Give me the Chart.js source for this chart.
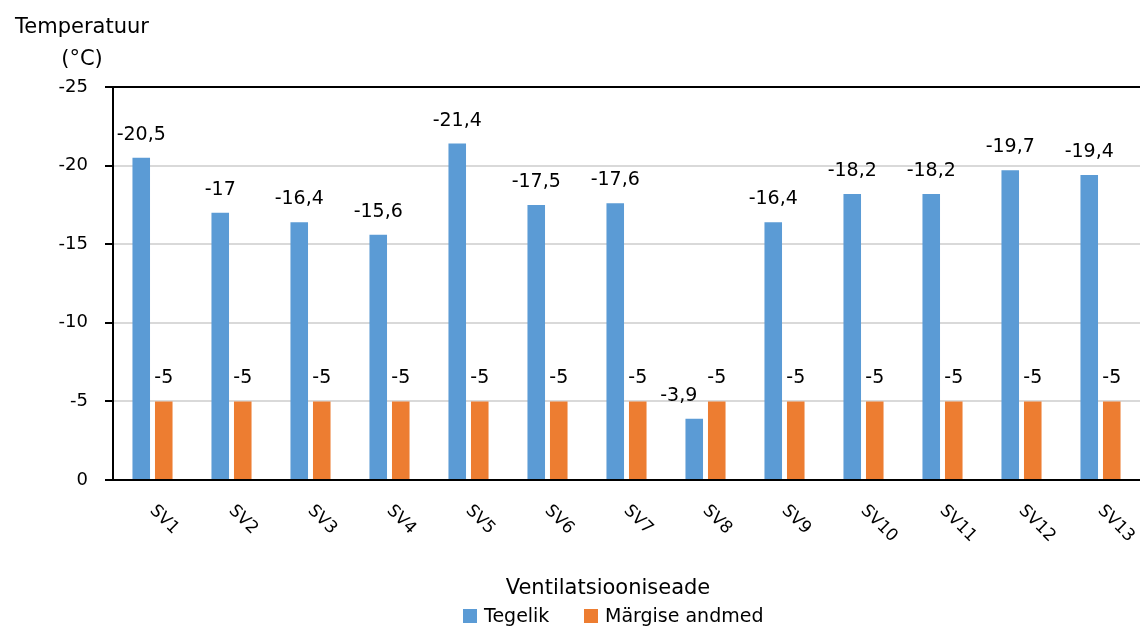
<!DOCTYPE html>
<html>
<head>
<meta charset="utf-8">
<title>Ventilatsiooniseadmete temperatuur</title>
<script src="https://cdn.jsdelivr.net/npm/chart.js@4/dist/chart.umd.min.js"></script>
<style>
  html, body { margin: 0; padding: 0; background: #ffffff; }
  #wrap { width: 1140px; height: 626px; }
</style>
</head>
<body>
<div id="wrap"><canvas id="chart" width="1140" height="626"></canvas></div>
<script>
// Ventilatsiooniseadmed
const categories = ['SV1', 'SV2', 'SV3', 'SV4', 'SV5', 'SV6', 'SV7', 'SV8', 'SV9', 'SV10', 'SV11', 'SV12', 'SV13'];
// Tegelik temperatuur (°C)
const tegelik = [-20.5, -17, -16.4, -15.6, -21.4, -17.5, -17.6, -3.9, -16.4, -18.2, -18.2, -19.7, -19.4];
// Märgise andmed (°C)
const margiseAndmed = [-5, -5, -5, -5, -5, -5, -5, -5, -5, -5, -5, -5, -5];
// Väärtustelje jaotised
const yTicks = [-25, -20, -15, -10, -5, 0];

const seriesNames = ['Tegelik', 'Märgise andmed'];
const seriesColors = ['#5B9BD5', '#ED7D31'];
const yTitle = ['Temperatuur', '(°C)'];
const xTitle = 'Ventilatsiooniseade';

const FONT = '"DejaVu Sans", sans-serif';
const INK = '#000000';

function fmt(v) {
  return String(v).replace('.', ',');
}

// Labels, rotated category names, titles and legend
const decorations = {
  id: 'decorations',
  afterDatasetsDraw(chart) {
    const ctx = chart.ctx;
    const labelSize = 19;
    ctx.save();
    ctx.fillStyle = INK;
    ctx.font = labelSize + 'px ' + FONT;
    ctx.textBaseline = 'alphabetic';
    ctx.textAlign = 'left';

    const m0 = chart.getDatasetMeta(0);
    const m1 = chart.getDatasetMeta(1);
    categories.forEach((c, i) => {
      const items = [
        { bar: m0.data[i], v: chart.data.datasets[0].data[i] },
        { bar: m1.data[i], v: chart.data.datasets[1].data[i] }
      ].map(o => {
        const t = fmt(o.v);
        const w = ctx.measureText(t).width;
        return { t, w, cx: o.bar.x, y: o.bar.y - 18 };
      });
      // keep the first label clear of its neighbour when they sit at similar heights
      const a = items[0], b = items[1];
      if (Math.abs(a.y - b.y) < labelSize && a.cx + a.w / 2 > b.cx - b.w / 2 - 10) {
        a.cx = b.cx - b.w / 2 - 10 - a.w / 2;
      }
      items.forEach(o => ctx.fillText(o.t, o.cx - o.w / 2, o.y));
    });

    // category names, turned 45°
    const xs = chart.scales.x;
    ctx.font = '17px ' + FONT;
    ctx.textBaseline = 'middle';
    categories.forEach((c, i) => {
      const px = xs.getPixelForTick(i);
      ctx.save();
      ctx.translate(px, 508);
      ctx.rotate(Math.PI / 4);
      ctx.fillText(c, 0, 0);
      ctx.restore();
    });

    // value axis title
    ctx.textAlign = 'center';
    ctx.textBaseline = 'alphabetic';
    ctx.font = '21px ' + FONT;
    ctx.fillText(yTitle[0], 82, 33);
    ctx.fillText(yTitle[1], 82, 65);

    // category axis title
    ctx.font = '21px ' + FONT;
    ctx.fillText(xTitle, 608, 594);

    // legend
    ctx.font = '19px ' + FONT;
    ctx.textAlign = 'left';
    const legendX = [463, 584];
    seriesNames.forEach((n, i) => {
      ctx.fillStyle = seriesColors[i];
      ctx.fillRect(legendX[i], 609, 14, 14);
      ctx.fillStyle = INK;
      ctx.fillText(n, legendX[i] + 21, 622);
    });
    ctx.restore();
  }
};

new Chart(document.getElementById('chart'), {
  type: 'bar',
  data: {
    labels: categories,
    datasets: [
      { label: seriesNames[0], data: tegelik, backgroundColor: seriesColors[0] },
      { label: seriesNames[1], data: margiseAndmed, backgroundColor: seriesColors[1] }
    ]
  },
  options: {
    responsive: false,
    animation: false,
    devicePixelRatio: 1,
    layout: { padding: { top: 87, left: 0, right: 0, bottom: 0 } },
    datasets: {
      bar: { categoryPercentage: 0.57, barPercentage: 0.78 }
    },
    plugins: {
      legend: { display: false },
      tooltip: { enabled: false },
      title: { display: false }
    },
    scales: {
      x: {
        offset: true,
        grid: { display: false },
        border: { display: true, color: INK, width: 2 },
        ticks: { display: false },
        afterFit(scale) { scale.height = 146; }
      },
      y: {
        reverse: true,
        min: yTicks[0],
        max: yTicks[yTicks.length - 1],
        afterBuildTicks(scale) { scale.ticks = yTicks.map(v => ({ value: v })); },
        afterFit(scale) { scale.width = 113; },
        grid: {
          color: c => (c.tick && (c.tick.value === yTicks[0] || c.tick.value === 0)) ? INK : '#d9d9d9',
          lineWidth: 2,
          tickColor: INK,
          tickLength: 8,
          drawTicks: true
        },
        border: { display: true, color: INK, width: 2 },
        ticks: {
          padding: 17,
          color: INK,
          font: { family: FONT, size: 18 },
          callback: v => String(v)
        }
      }
    }
  },
  plugins: [decorations]
});
</script>
</body>
</html>
